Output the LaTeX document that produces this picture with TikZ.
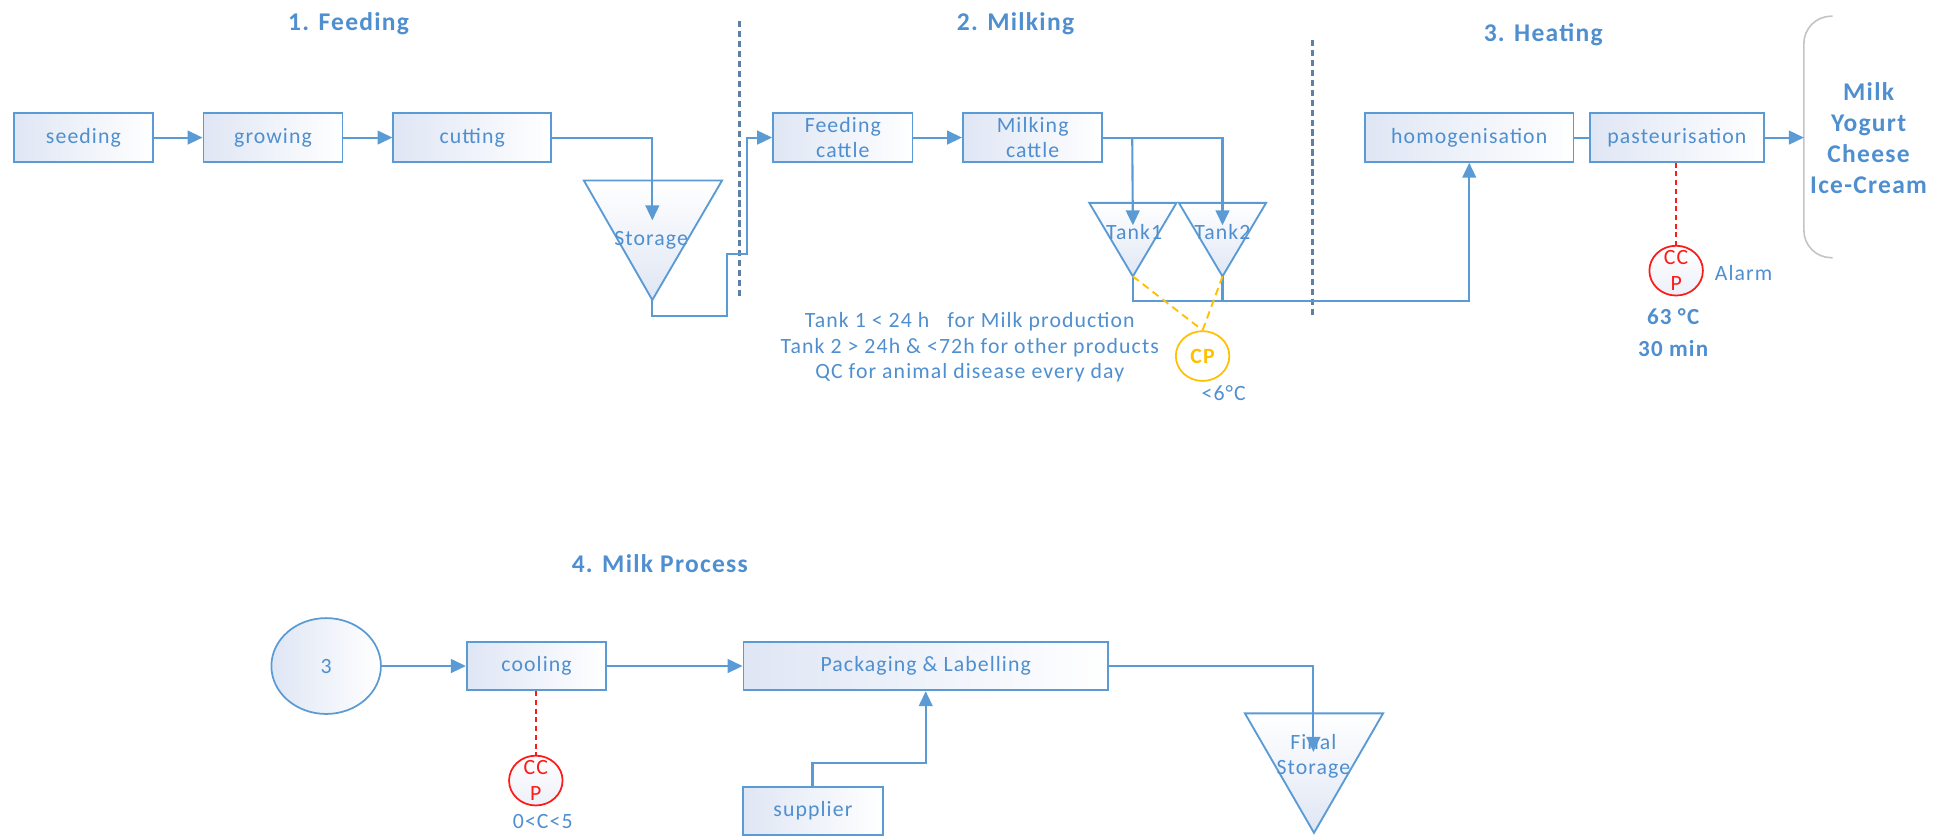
\documentclass[tikz,border=0pt]{standalone}
\usepackage{fontspec}
\setmainfont{Carlito}[LetterSpace=5]
\usetikzlibrary{shapes.geometric,arrows.meta}
\definecolor{lb}{HTML}{5B9BD5}
\definecolor{tb}{HTML}{4F8FCF}
\definecolor{boxl}{HTML}{DFE6F4}
\definecolor{divc}{HTML}{5E7FA6}
\definecolor{ccpred}{HTML}{FF1A1A}
\definecolor{cpgold}{HTML}{FFC000}
\definecolor{brk}{HTML}{C4C4C4}
\newcommand\fsbox{\fontsize{17.5}{20.5}\selectfont}
\newcommand\fsttl{\fontsize{20.5}{24}\selectfont\bfseries}
\newcommand\fsprod{\fontsize{20.5}{25}\selectfont\bfseries}
\newcommand\fsbig{\fontsize{18.5}{25.6}\selectfont\bfseries}
\begin{document}
\begin{tikzpicture}[x=1pt,y=-1pt,
  box/.style={draw=lb, line width=1.5pt, left color=boxl, right color=white,
    minimum height=39pt, inner sep=0pt, text=tb, font=\fsbox, align=center},
  txt/.style={text=tb, font=\fsbox, inner sep=0pt, align=center},
  ttl/.style={text=tb, font=\fsttl, inner sep=0pt},
  con/.style={draw=lb, line width=1.7pt},
  arr/.style={con, -{Triangle[length=12pt,width=11pt]}},
  tri/.style={draw=lb, line width=1.5pt, top color=white, bottom color=boxl},
  ccp/.style={ellipse, draw=ccpred, line width=1.4pt, top color=white, bottom color=boxl!60,
    minimum width=43pt, minimum height=40pt, inner sep=0pt},
  ccpt/.style={text=ccpred, font=\fsbox, align=center, inner sep=0pt},
  ccpl/.style={draw=ccpred, line width=1.5pt, dash pattern=on 4pt off 3pt},
  cpl/.style={draw=cpgold, line width=1.5pt, dash pattern=on 6pt off 4pt},
  divl/.style={draw=divc, line width=2.2pt, dash pattern=on 5pt off 3pt}
]
\useasboundingbox (0,0) rectangle (1568,672);

% titles
\node[ttl] (t1) at (280,18.7) {1. Feeding};
\node[ttl] (t2) at (815.7,18.7) {2. Milking};
\node[ttl] (t3) at (1239.6,28) {3. Heating};
\node[ttl] (t4) at (530,452.5) {4. Milk Process};

% dividers
\coordinate (d1a) at (594,17);  \coordinate (d1b) at (594,238);
\coordinate (d2a) at (1054,32); \coordinate (d2b) at (1054,253);
\draw[divl] (d1a) -- (d1b);
\draw[divl] (d2a) -- (d2b);

% row 1 boxes
\node[box, minimum width=112pt] (seed) at (67,110.5) {seeding};
\node[box, minimum width=111.7pt] (grow) at (219.3,110.5) {growing};
\node[box, minimum width=126.6pt] (cut) at (379.3,110.5) {cutting};
\node[box, minimum width=112pt] (feed) at (677,110.5) {Feeding\\cattle};
\node[box, minimum width=112pt] (milk) at (829.5,110.5) {Milking\\cattle};
\node[box, minimum width=167.5pt] (homo) at (1180.2,110.5) {homogenisation};
\node[box, minimum width=140pt] (past) at (1347,110.5) {pasteurisation};

% storage triangle
\coordinate (stl) at (469,145); \coordinate (str) at (580,145); \coordinate (stb) at (524,241);
\draw[tri] (stl) -- (str) -- (stb) -- cycle;
\node[txt] (st) at (523,193) {Storage};
\coordinate (stin) at (524,177);

% tanks
\coordinate (t1l) at (875,163); \coordinate (t1r) at (945,163); \coordinate (t1b) at (910,222);
\coordinate (t2l) at (947,163); \coordinate (t2r) at (1017,163); \coordinate (t2b) at (982,222);
\draw[tri] (t1l) -- (t1r) -- (t1b) -- cycle;
\draw[tri] (t2l) -- (t2r) -- (t2b) -- cycle;
\node[txt] (tk1) at (911,186) {Tank1};
\node[txt] (tk2) at (982,186) {Tank2};
\coordinate (tk1in) at (910,181);
\coordinate (tk2in) at (982,181);

% products bracket
\coordinate (bra) at (1472,13); \coordinate (brb) at (1472,207);
\draw[draw=brk, line width=1.3pt, rounded corners=22pt] (bra) -- (1449,13) -- (1449,207) -- (brb);
\coordinate (prodin) at (1449,110.5);
\node[text=tb, font=\fsprod, align=center, inner sep=0pt] (prod) at (1501,111) {Milk\\Yogurt\\Cheese\\Ice-Cream};

% CCP / CP
\node[ccp] (ccp1) at (1346.4,217.4) {};
\node[ccpt] (ccp1t) at (ccp1.center) {CC\\P};
\node[txt] (alarm) at (1400.5,219) {Alarm};
\node[text=tb, font=\fsbig, align=center, inner sep=0pt] (temp) at (1344,267) {63 °C\\30 min};
\node[ellipse, draw=cpgold, line width=1.4pt, fill=white, minimum width=43pt, minimum height=40pt,
  inner sep=0pt, text=cpgold, font=\fsbox\bfseries] (cp) at (966,286) {CP};
\node[txt] (lt6) at (983,316) {<6°C};
\node[txt] (note) at (779,279) {Tank 1 < 24 h \ \ for Milk production\\Tank 2 > 24h \& <72h for other products\\QC for animal disease every day};

% row 1 connectors
\draw[arr] (seed) -- (grow);
\draw[arr] (grow) -- (cut);
\draw[arr] (cut.east) -| (stin);
\draw[arr] (stb) -- (524,254) -- (584,254) -- (584,204) -- (600,204) -- (600,110.5) -- (feed.west);
\draw[arr] (feed) -- (milk);
\draw[arr] (milk.east) -| (tk2in);
\draw[arr] (909.5,110.5) -- (tk1in);
\draw[con] (t2b) -- (982,242);
\draw[arr] (t1b) -- (910,242) -| (homo.south);
\draw[con] (homo) -- (past);
\draw[arr] (past.east) -- (prodin);
\draw[ccpl] (past.south -| ccp1.north) -- (ccp1.north);
\draw[cpl] (t1b) -- (cp.north);
\draw[cpl] (t2b) -- (cp.north);

% row 2
\node[ellipse, draw=lb, line width=1.4pt, left color=boxl, right color=white, minimum width=88pt,
  minimum height=77pt, inner sep=0pt, text=tb, font=\fsbox] (c3) at (262,535) {3};
\node[box, minimum width=112pt] (cool) at (431,535) {cooling};
\node[box, minimum width=292.7pt] (pack) at (743.6,535) {Packaging \& Labelling};
\node[box, minimum width=112pt] (sup) at (653,651.5) {supplier};
\coordinate (fsl) at (1000,573); \coordinate (fsr) at (1111,573); \coordinate (fsb) at (1055.5,669);
\draw[tri] (fsl) -- (fsr) -- (fsb) -- cycle;
\node[txt] (fs) at (1055,607.5) {Final\\Storage};
\coordinate (fsin) at (1055,604);
\node[ccp] (ccp2) at (430.4,627) {};
\node[ccpt] (ccp2t) at (ccp2.center) {CC\\P};
\node[txt] (crange) at (436,660) {0<C<5};

\draw[arr] (c3) -- (cool);
\draw[arr] (cool) -- (pack);
\draw[arr] (pack.east) -| (fsin);
\draw[arr] (652.7,632) -- (652.7,613) -| (pack.south);
\draw[ccpl] (cool.south -| ccp2.north) -- (ccp2.north);
\end{tikzpicture}
\end{document}
